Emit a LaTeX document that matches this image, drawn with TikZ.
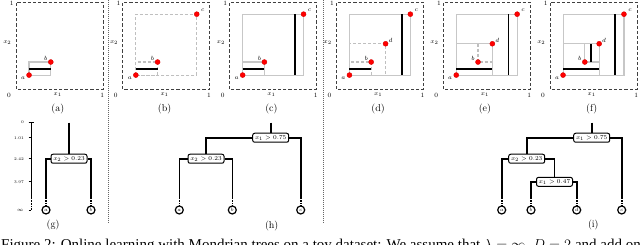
\documentclass[tikz,border=0pt]{standalone}
\usepackage{fontspec}
\newfontfamily\capfont{Liberation Serif}
\usetikzlibrary{calc}
\tikzset{
  frame/.style={draw=black!75, dash pattern=on 3.2pt off 2pt, line width=0.9pt},
  gbox/.style={draw=black!22, line width=1.1pt},
  gdash/.style={draw=black!25, line width=1.1pt, dash pattern=on 3pt off 2pt},
  splitline/.style={draw=black, line width=1.7pt},
  ptm/.style={circle, fill=red, draw=red!85!black, line width=0.4pt, inner sep=0pt, minimum size=5pt},
  plab/.style={font=\fontsize{6.5}{7}\selectfont, inner sep=0pt},
  axlab/.style={font=\fontsize{6.5}{7}\selectfont, inner sep=0pt},
  sublab/.style={font=\fontsize{10}{11}\selectfont, inner sep=0pt},
  ticklab/.style={font=\fontsize{4}{4.5}\selectfont, inner sep=0pt, anchor=east},
  tnode/.style={draw, line width=1pt, rounded corners=2pt, fill=white, minimum width=36pt, minimum height=9pt, inner sep=0.5pt, font=\fontsize{6.2}{7}\selectfont},
  leaf/.style={circle, draw, line width=1.2pt, minimum size=8pt, inner sep=0pt, font=\fontsize{5.5}{6}\selectfont},
  branch/.style={line width=1.6pt},
  tailline/.style={line width=1.6pt, dash pattern=on 1.2pt off 1.2pt},
  sepline/.style={draw=black!60, line width=0.8pt, dash pattern=on 0.6pt off 1.4pt},
  axisline/.style={line width=0.8pt},
}
\newcommand\mpt[6]{\node[ptm] (#1) at (#2,#3) {}; \node[plab] (#1l) at ($(#2,#3)+(#5,#6)$) {$#4$};}
\newcommand\ptsab[1]{\mpt{#1a}{0.15}{0.16}{a}{-0.069}{-0.040}\mpt{#1b}{0.40}{0.31}{b}{-0.057}{0.046}}
\newcommand\ptc[1]{\mpt{#1c}{0.85}{0.86}{c}{0.069}{0.046}}
\newcommand\ptd[1]{\mpt{#1d}{0.565}{0.52}{d}{0.057}{0.035}}
\newcommand\pframe[2]{%
  \draw[frame] (0,0) rectangle (1,1);
  \node[axlab] (#1t) at (-0.05,0.98) {1};
  \node[axlab] (#1o) at (-0.08,-0.07) {0};
  \node[axlab] (#1r) at (0.99,-0.07) {1};
  \node[axlab] (#1x) at (0.48,-0.07) {$x_1$};
  \node[axlab] (#1y) at (-0.10,0.53) {$x_2$};
  \node[sublab] (#1s) at (0.48,-0.23) {(#2)};}
\begin{document}
\begin{tikzpicture}[x=1pt,y=-1pt]
\useasboundingbox (0,0) rectangle (640,245);
\fill[white] (0,0) rectangle (640,245);
% separators
\draw[sepline] (108,0) -- (108,223);
\draw[sepline] (323,0) -- (323,223);
% (a)
\begin{scope}[shift={(16,89)}, x=87pt, y=87pt]
  \pframe{A}{a}
  \draw[gbox] (0.15,0.16) rectangle (0.40,0.31);
  \draw[splitline] (0.15,0.23) -- (0.40,0.23);
  \ptsab{A}
\end{scope}
% (b)
\begin{scope}[shift={(122.8,89)}, x=87pt, y=87pt]
  \pframe{B}{b}
  \draw[gdash] (0.15,0.16) rectangle (0.85,0.86);
  \draw[gdash] (0.15,0.16) rectangle (0.40,0.31);
  \draw[splitline] (0.15,0.23) -- (0.40,0.23);
  \ptsab{B}\ptc{B}
\end{scope}
% (c)
\begin{scope}[shift={(229.6,89)}, x=87pt, y=87pt]
  \pframe{C}{c}
  \draw[gbox] (0.15,0.16) rectangle (0.85,0.86);
  \draw[gbox] (0.15,0.16) rectangle (0.40,0.31);
  \draw[splitline] (0.15,0.23) -- (0.40,0.23);
  \draw[splitline] (0.75,0.16) -- (0.75,0.86);
  \ptsab{C}\ptc{C}
\end{scope}
% (d)
\begin{scope}[shift={(336.4,89)}, x=87pt, y=87pt]
  \pframe{D}{d}
  \draw[gdash] (0.15,0.16) rectangle (0.565,0.52);
  \draw[gdash] (0.15,0.16) rectangle (0.40,0.31);
  \draw[gbox] (0.15,0.16) rectangle (0.85,0.86);
  \draw[splitline] (0.15,0.23) -- (0.40,0.23);
  \draw[splitline] (0.75,0.16) -- (0.75,0.86);
  \ptsab{D}\ptc{D}\ptd{D}
\end{scope}
% (e)
\begin{scope}[shift={(443.2,89)}, x=87pt, y=87pt]
  \pframe{E}{e}
  \draw[gdash] (0.40,0.52) -- (0.40,0.31) -- (0.565,0.31);
  \draw[gbox] (0.15,0.16) rectangle (0.85,0.86);
  \draw[gbox] (0.15,0.16) rectangle (0.565,0.52);
  \draw[splitline] (0.15,0.23) -- (0.565,0.23);
  \draw[splitline] (0.75,0.16) -- (0.75,0.86);
  \ptsab{E}\ptc{E}\ptd{E}
\end{scope}
% (f)
\begin{scope}[shift={(550,89)}, x=87pt, y=87pt]
  \pframe{F}{f}
  \draw[gbox] (0.15,0.16) rectangle (0.85,0.86);
  \draw[gbox] (0.15,0.16) rectangle (0.565,0.52);
  \draw[gbox] (0.40,0.31) rectangle (0.565,0.52);
  \draw[splitline] (0.15,0.23) -- (0.565,0.23);
  \draw[splitline] (0.475,0.31) -- (0.475,0.52);
  \draw[splitline] (0.75,0.16) -- (0.75,0.86);
  \ptsab{F}\ptc{F}\ptd{F}
\end{scope}
% ---------- (g) ----------
\coordinate (ax0) at (31,122.7);
\coordinate (ax1) at (31,198);
\coordinate (ax2) at (31,210);
\draw[axisline] (ax0) -- (ax1);
\draw[axisline, dash pattern=on 0.8pt off 0.8pt] (ax1) -- (ax2);
\draw[axisline] (28.5,122.7) -- (33.5,122.7);
\foreach \yy/\lab [count=\i] in {122.7/0,137.75/1.01,158.75/2.42,181.85/3.97,210/$\infty$}{
  \draw[axisline] (28.5,\yy) -- (31,\yy);
  \node[ticklab] (tk\i) at (24,\yy) {\lab};
}
\coordinate (g0) at (69,122.7);
\node[tnode] (g1) at (69,158.75) {$x_2>0.23$};
\node[leaf] (ga) at (46,210) {$a$};
\node[leaf] (gb) at (91,210) {$b$};
\coordinate (gaE) at (46,198);
\coordinate (gbE) at (91,198);
\draw[branch] (g0) -- (g1);
\draw[branch] (g1.west) -| (gaE);
\draw[branch] (g1.east) -| (gbE);
\draw[tailline] (gaE) -- (ga.north);
\draw[tailline] (gbE) -- (gb.north);
\node[sublab] (gs) at (53,225) {(g)};
% ---------- (h) ----------
\coordinate (h0) at (270.7,122.7);
\node[tnode] (h2) at (206,158.75) {$x_2>0.23$};
\node[leaf] (ha) at (179.3,210) {$a$};
\node[leaf] (hb) at (232.3,210) {$b$};
\node[leaf] (hc) at (300.7,210) {$c$};
\coordinate (haE) at (179.3,198);
\coordinate (hbE) at (232.3,198);
\coordinate (hcE) at (300.7,198);
\draw[branch] (h0) -- (270.7,137.75);
\node[tnode] (h1) at (270.7,137.75) {$x_1>0.75$};
\draw[branch] (h1.west) -| (h2.north);
\draw[branch] (h1.east) -| (hcE);
\draw[branch] (h2.west) -| (haE);
\draw[branch] (h2.east) -| (hbE);
\draw[tailline] (haE) -- (ha.north);
\draw[tailline] (hbE) -- (hb.north);
\draw[tailline] (hcE) -- (hc.north);
\node[sublab] (hs) at (271.7,226) {(h)};
% ---------- (i) ----------
\coordinate (i0) at (591.7,122.7);
\node[tnode] (i2) at (526.7,158.75) {$x_2>0.23$};
\node[tnode] (i3) at (554.5,181.85) {$x_1>0.47$};
\node[leaf] (ia) at (501.7,210) {$a$};
\node[leaf] (ib) at (531,210) {$b$};
\node[leaf] (id) at (576.7,210) {$d$};
\node[leaf] (ic) at (621.7,210) {$c$};
\coordinate (iaE) at (501.7,198);
\coordinate (ibE) at (531,198);
\coordinate (idE) at (576.7,198);
\coordinate (icE) at (621.7,198);
\draw[branch] (i0) -- (591.7,137.75);
\node[tnode] (i1) at (591.7,137.75) {$x_1>0.75$};
\draw[branch] (i1.west) -| (i2.north);
\draw[branch] (i1.east) -| (icE);
\draw[branch] (i2.west) -| (iaE);
\draw[branch] (i2.east) -| (i3.north);
\draw[branch] (i3.west) -| (ibE);
\draw[branch] (i3.east) -| (idE);
\draw[tailline] (iaE) -- (ia.north);
\draw[tailline] (ibE) -- (ib.north);
\draw[tailline] (idE) -- (id.north);
\draw[tailline] (icE) -- (ic.north);
\node[sublab] (is) at (593.3,225) {(i)};
% caption (cut by the page edge, as in the reference)
\begin{scope}
\clip (0,0) rectangle (640,245);
\node[anchor=base west, inner sep=0pt] (cap) at (1,249.5) {\capfont\fontsize{15}{17}\selectfont Figure 2: Online learning with Mondrian trees on a toy dataset: We assume that $\lambda=\infty$, $D=2$ and add one data point at each iteration.};
\end{scope}
\end{tikzpicture}
\end{document}
